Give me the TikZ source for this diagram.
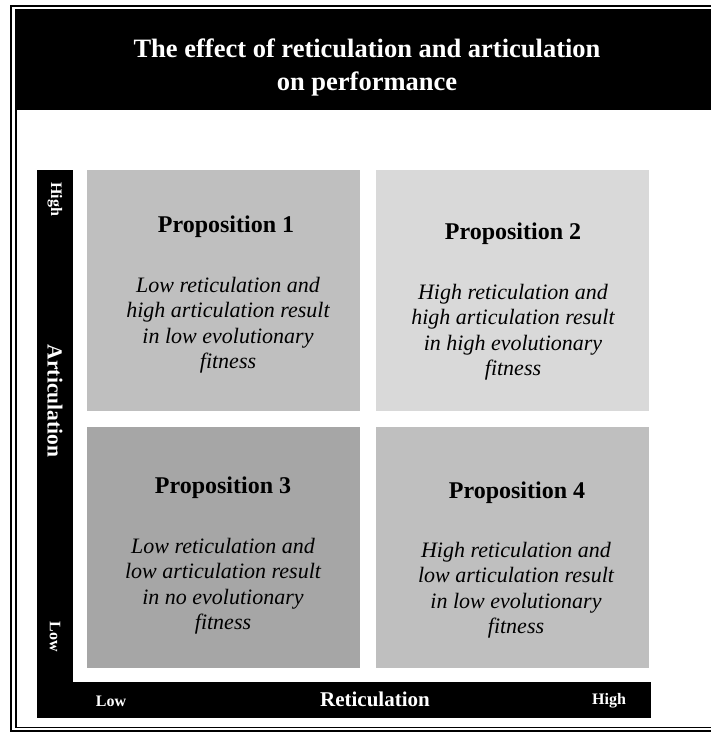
\documentclass[tikz,border=0pt]{standalone}
\usepackage{fontspec}
\setmainfont{Liberation Serif}
\usetikzlibrary{positioning}

\definecolor{greymid}{HTML}{BFBFBF}
\definecolor{greylight}{HTML}{D9D9D9}
\definecolor{greydark}{HTML}{A6A6A6}

\begin{document}
\begin{tikzpicture}[x=1pt, y=-1pt, inner sep=0pt,
        quad/.style={rectangle, minimum width=273pt, minimum height=241pt},
        bar/.style={rectangle, fill=black},
        heading/.style={font=\fontsize{24}{28}\selectfont\bfseries},
        body/.style={align=center, font=\fontsize{22}{25.5}\selectfont\itshape},
        axis/.style={text=white, font=\fontsize{16}{18}\selectfont\bfseries}]

        \useasboundingbox (0,0) rectangle (711,732);
        \clip (0,0) rectangle (711,732);

        % FRAME (RIGHT SIDE RUNS OFF THE PAGE)
        \draw[line width=2pt] (11,5.5) rectangle (722,730.5);
        \draw[line width=1.5pt] (16,9.5) rectangle (717,727.5);

        % TITLE
        \node[bar, minimum width=709pt, minimum height=100pt] (titlebar) at (370.5,60) {};
        \node[text=white, align=center, font=\fontsize{26.5}{33}\selectfont\bfseries] (title) at (367,67)
            {The effect of reticulation and articulation\\on performance};

        % AXES
        \node[bar, minimum width=36pt, minimum height=548pt] (vbar) at (55,444) {};
        \node[bar, minimum width=614pt, minimum height=36pt] (hbar) at (344,700) {};
        \node[axis, rotate=-90] (ahigh) at (55,199) {High};
        \node[axis, rotate=-90, font=\fontsize{21.5}{24}\selectfont\bfseries] (articulation) at (55,401) {Articulation};
        \node[axis, rotate=-90] (alow) at (55,637) {Low};
        \node[axis] (rlow) at (111,701) {Low};
        \node[axis, font=\fontsize{21}{24}\selectfont\bfseries] (reticulation) at (375,699) {Reticulation};
        \node[axis] (rhigh) at (609,701) {High};

        % QUADRANTS
        \node[quad, fill=greymid] (q1) at (223.5,290.5) {};
        \node[quad, fill=greylight] (q2) at (512.5,290.5) {};
        \node[quad, fill=greydark] (q3) at (223.5,547.5) {};
        \node[quad, fill=greymid] (q4) at (512.5,547.5) {};

        \node[heading] (p1) at (226,227) {Proposition 1};
        \node[body] (t1) at (228,325) {Low reticulation and\\high articulation result\\in low evolutionary\\fitness};

        \node[heading] (p2) at (513,234) {Proposition 2};
        \node[body] (t2) at (513,332) {High reticulation and\\high articulation result\\in high evolutionary\\fitness};

        \node[heading] (p3) at (223,488) {Proposition 3};
        \node[body] (t3) at (223,586) {Low reticulation and\\low articulation result\\in no evolutionary\\fitness};

        \node[heading] (p4) at (517,493) {Proposition 4};
        \node[body] (t4) at (516,590) {High reticulation and\\low articulation result\\in low evolutionary\\fitness};

    \end{tikzpicture}
\end{document}
